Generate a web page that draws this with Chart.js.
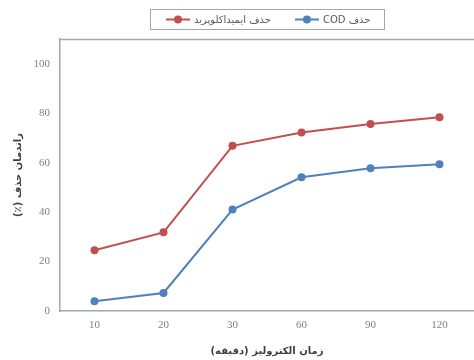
<!DOCTYPE html>
<html>
<head>
<meta charset="utf-8">
<script src="https://cdn.jsdelivr.net/npm/chart.js@4/dist/chart.umd.min.js"></script>
<style>
  html, body { margin: 0; padding: 0; background: #ffffff; overflow: hidden; }
  #wrap { width: 478px; height: 360px; }
  canvas { direction: rtl; }
</style>
</head>
<body>
<div id="wrap"><canvas id="c" width="478" height="360" dir="rtl"></canvas></div>
<script>
// Data
const categories = ['10', '20', '30', '60', '90', '120'];
const imidaclopridRemoval = [24.6, 31.8, 66.8, 72.2, 75.6, 78.4];
const codRemoval = [3.9, 7.3, 41.0, 54.1, 57.7, 59.3];
const seriesLabels = ['حذف ایمیداکلوپرید', 'حذف COD'];
const yTicks = [0, 20, 40, 60, 80, 100];
const xTitle = 'زمان الکترولیز (دقیقه)';
const yTitle = 'راندمان حذف (٪)';

const RED = '#C0504D';
const BLUE = '#4F81BD';

const framePlugin = {
  id: 'frame',
  afterDraw(chart) {
    const ctx = chart.ctx, ca = chart.chartArea;
    ctx.save();
    ctx.strokeStyle = '#a8a8a8';
    ctx.lineWidth = 1.5;
    ctx.beginPath();
    ctx.moveTo(ca.left, ca.top + 0.5);
    ctx.lineTo(ca.right, ca.top + 0.5);
    ctx.stroke();
    ctx.restore();
  }
};

const legendPlugin = {
  id: 'boxLegend',
  afterDraw(chart) {
    const ctx = chart.ctx, ca = chart.chartArea;
    ctx.save();
    ctx.font = '10px "DejaVu Sans"';
    ctx.direction = 'rtl';
    const items = chart.data.datasets.map(ds => ({
      label: ds.label, color: ds.borderColor, w: ctx.measureText(ds.label).width
    }));
    const lineLen = 24, gapText = 4, gapItem = 24, padL = 16, padR = 14;
    const total = padL + padR + items.reduce((a, it) => a + lineLen + gapText + it.w, 0) + gapItem * (items.length - 1);
    const x0 = Math.round((ca.left + ca.right) / 2 - total / 2);
    const y0 = 9, h = 20;
    ctx.strokeStyle = '#a6a6a6';
    ctx.lineWidth = 1;
    ctx.strokeRect(x0 + 0.5, y0 + 0.5, Math.round(total), h);
    let x = x0 + padL;
    const yc = y0 + h / 2 + 0.5;
    items.forEach(it => {
      ctx.strokeStyle = it.color;
      ctx.lineWidth = 2;
      ctx.beginPath();
      ctx.moveTo(x, yc);
      ctx.lineTo(x + lineLen, yc);
      ctx.stroke();
      ctx.fillStyle = it.color;
      ctx.beginPath();
      ctx.arc(x + lineLen / 2, yc, 4, 0, Math.PI * 2);
      ctx.fill();
      x += lineLen + gapText;
      ctx.fillStyle = '#595959';
      ctx.textAlign = 'left';
      ctx.textBaseline = 'middle';
      ctx.fillText(it.label, x, yc + 0.5);
      x += it.w + gapItem;
    });
    ctx.restore();
  }
};

new Chart(document.getElementById('c'), {
  type: 'line',
  data: {
    labels: categories,
    datasets: [
      {
        label: seriesLabels[0],
        data: imidaclopridRemoval,
        borderColor: RED,
        backgroundColor: RED,
        borderWidth: 2,
        pointRadius: 4,
        pointBackgroundColor: RED,
        pointBorderWidth: 0,
        tension: 0
      },
      {
        label: seriesLabels[1],
        data: codRemoval,
        borderColor: BLUE,
        backgroundColor: BLUE,
        borderWidth: 2,
        pointRadius: 4,
        pointBackgroundColor: BLUE,
        pointBorderWidth: 0,
        tension: 0
      }
    ]
  },
  options: {
    responsive: false,
    animation: false,
    layout: { padding: { top: 39, left: 0, right: 0, bottom: 0 } },
    plugins: {
      legend: { display: false },
      tooltip: { enabled: false }
    },
    scales: {
      x: {
        offset: true,
        grid: { display: false, drawTicks: false },
        border: { display: true, color: '#a6a6a6', width: 1.5 },
        ticks: {
          color: '#7f7f7f',
          font: { family: '"Liberation Serif"', size: 11 },
          padding: 8
        },
        title: {
          display: true,
          text: xTitle,
          color: '#404040',
          font: { family: '"DejaVu Sans"', size: 10, weight: 'bold' },
          padding: { top: 0, bottom: 3 }
        },
        afterFit(s) { s.height = 49; }
      },
      y: {
        min: 0,
        max: 110,
        grid: { display: false, drawTicks: false },
        border: { display: true, color: '#a6a6a6', width: 1.5 },
        afterBuildTicks(s) { s.ticks = yTicks.map(v => ({ value: v })); },
        ticks: {
          color: '#7f7f7f',
          font: { family: '"Liberation Serif"', size: 11 },
          padding: 10
        },
        title: {
          display: true,
          text: yTitle,
          color: '#404040',
          font: { family: '"DejaVu Sans"', size: 10, weight: 'bold' },
          padding: { top: 12, bottom: 0 }
        },
        afterFit(s) { s.width = 60; }
      }
    }
  },
  plugins: [framePlugin, legendPlugin]
});
</script>
</body>
</html>
